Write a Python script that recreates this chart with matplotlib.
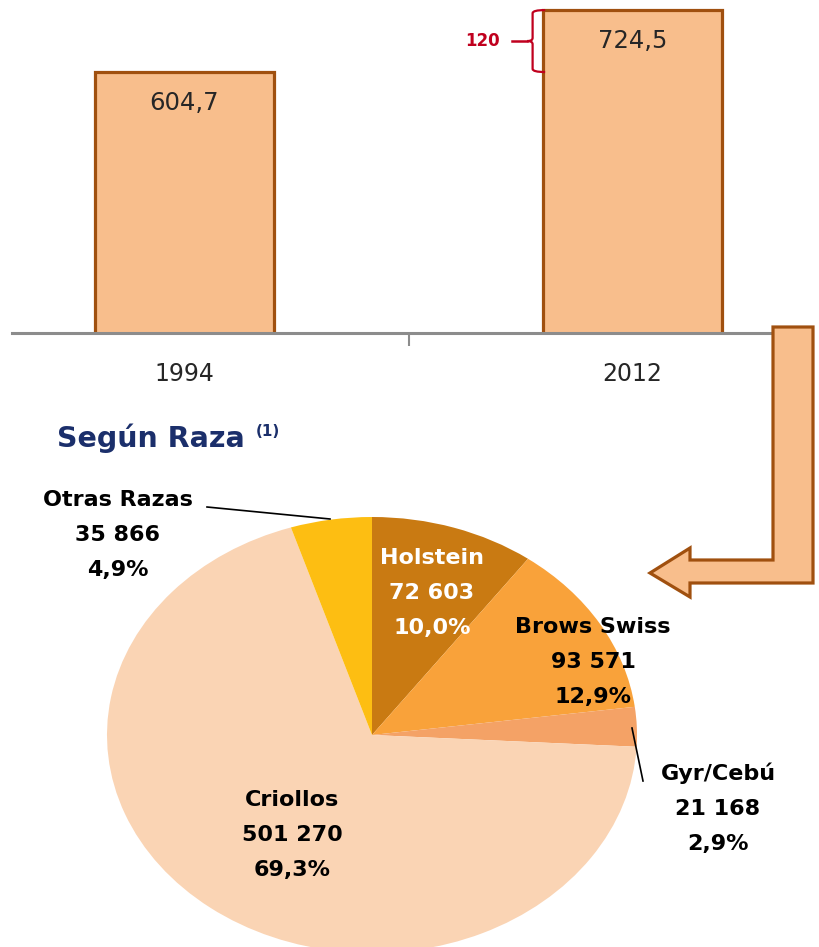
import matplotlib
matplotlib.use("Agg")
import matplotlib.pyplot as plt
from matplotlib.patches import Polygon, PathPatch
from matplotlib.path import Path
from matplotlib.lines import Line2D

plt.rcParams['font.family'] = ['DejaVu Sans']

# bar data (miles de cabezas)
years = ["1994", "2012"]
totals = [604.7, 724.5]
bar_labels = ["604,7", "724,5"]
diff_label = "120"

# pie data
breeds = ["Holstein", "Brows Swiss", "Gyr/Cebú", "Criollos", "Otras Razas"]
heads = [72603, 93571, 21168, 501270, 35866]
pcts = ["10,0", "12,9", "2,9", "69,3", "4,9"]
pie_colors = ["#C97A12", "#F9A23A", "#F4A266", "#FAD4B4", "#FDBE12"]

W, H = 819, 947
BAR_FILL = "#F8BE8C"
BAR_EDGE = "#A0500F"


def fx(px):
    return px / W


def fy(py):
    return 1 - py / H


fig = plt.figure(figsize=(W / 100, H / 100), dpi=100)

# ---- bar chart ----
ax = fig.add_axes([fx(12), fy(333), fx(805) - fx(12), 333 / H])
xs = list(range(len(years)))
bw = 0.4
ax.bar(xs, totals, width=bw, color=BAR_FILL, edgecolor=BAR_EDGE, linewidth=2.3)
ax.set_xlim(-0.385, 1.385)
ax.set_ylim(100, 744)
for s in ["top", "right", "left"]:
    ax.spines[s].set_visible(False)
ax.spines["bottom"].set_color("#8C8C8C")
ax.spines["bottom"].set_linewidth(2.2)
ax.set_yticks([])
ax.set_xticks(xs, labels=years)
ax.tick_params(axis="x", length=0, pad=21, labelsize=17, labelcolor="#262626")
ax.set_xticks([0.5], minor=True)
ax.tick_params(axis="x", which="minor", length=9, width=1.5, color="#8C8C8C")
for x, v, lab in zip(xs, totals, bar_labels):
    ax.text(x, v - 59, lab, ha="center", va="center", fontsize=17.5, color="#262626")

# red brace marking the increase
x0 = xs[1] - bw / 2 + 0.005
xv = x0 - 0.028
xm = xv - 0.012
lo, hi = totals[0], totals[1]
mid = (lo + hi) / 2
r = 6
verts = [(x0, hi), (xv, hi), (xv, hi - r),
         (xv, mid + r), (xv, mid), (xm, mid),
         (xv, mid), (xv, mid - r),
         (xv, lo + r), (xv, lo), (x0, lo)]
codes = [Path.MOVETO, Path.CURVE3, Path.CURVE3,
         Path.LINETO, Path.CURVE3, Path.CURVE3,
         Path.CURVE3, Path.CURVE3,
         Path.LINETO, Path.CURVE3, Path.CURVE3]
ax.add_patch(PathPatch(Path(verts, codes), fill=False, edgecolor="#C0001E",
                       linewidth=1.6, clip_on=False))
ax.plot([xm - 0.033, xm], [mid, mid], color="#C0001E", lw=1.8, clip_on=False)
ax.text(xm - 0.1, mid, diff_label, ha="center", va="center", fontsize=12,
        fontweight="bold", color="#C0001E")

# L-shaped arrow linking 2012 to the pie
arrow_px = [(773, 327), (813, 327), (813, 583), (690, 583), (690, 597),
            (650, 573), (690, 548), (690, 560), (773, 560)]
arrow = Polygon([(fx(a), fy(b)) for a, b in arrow_px], closed=True,
                transform=fig.transFigure, facecolor=BAR_FILL,
                edgecolor=BAR_EDGE, linewidth=2.3, zorder=5)
fig.add_artist(arrow)

# ---- title ----
fig.text(fx(57), fy(438), "Según Raza", fontsize=20.5, fontweight="bold",
         color="#1B2F6B", va="center", ha="left")
fig.text(fx(256), fy(431), "(1)", fontsize=11, fontweight="bold",
         color="#1B2F6B", va="center", ha="left")

# ---- pie chart ----
ax2 = fig.add_axes([fx(107), fy(953), fx(637) - fx(107), 436 / H])
ax2.pie(heads, colors=pie_colors, startangle=90, counterclock=False,
        wedgeprops=dict(linewidth=0))
ax2.set_aspect("auto")
ax2.set_xlim(-1, 1)
ax2.set_ylim(-1, 1)

label_px = [(432, 593), (593, 662), (718, 808), (292, 835), (118, 535)]
label_colors = ["white", "black", "black", "black", "black"]
for name, n, p, (px, py), c in zip(breeds, heads, pcts, label_px, label_colors):
    txt = f"{name}\n{n:,}".replace(",", " ") + f"\n{p}%"
    fig.text(fx(px), fy(py), txt, ha="center", va="center", fontsize=16,
             fontweight="bold", color=c, linespacing=1.95)

# leader lines
fig.add_artist(Line2D([fx(207), fx(330)], [fy(507), fy(519)],
                      transform=fig.transFigure, color="black", lw=1.2))
fig.add_artist(Line2D([fx(632), fx(643)], [fy(728), fy(781)],
                      transform=fig.transFigure, color="black", lw=1.2))

fig.savefig("out.png", dpi=100, facecolor="white")
